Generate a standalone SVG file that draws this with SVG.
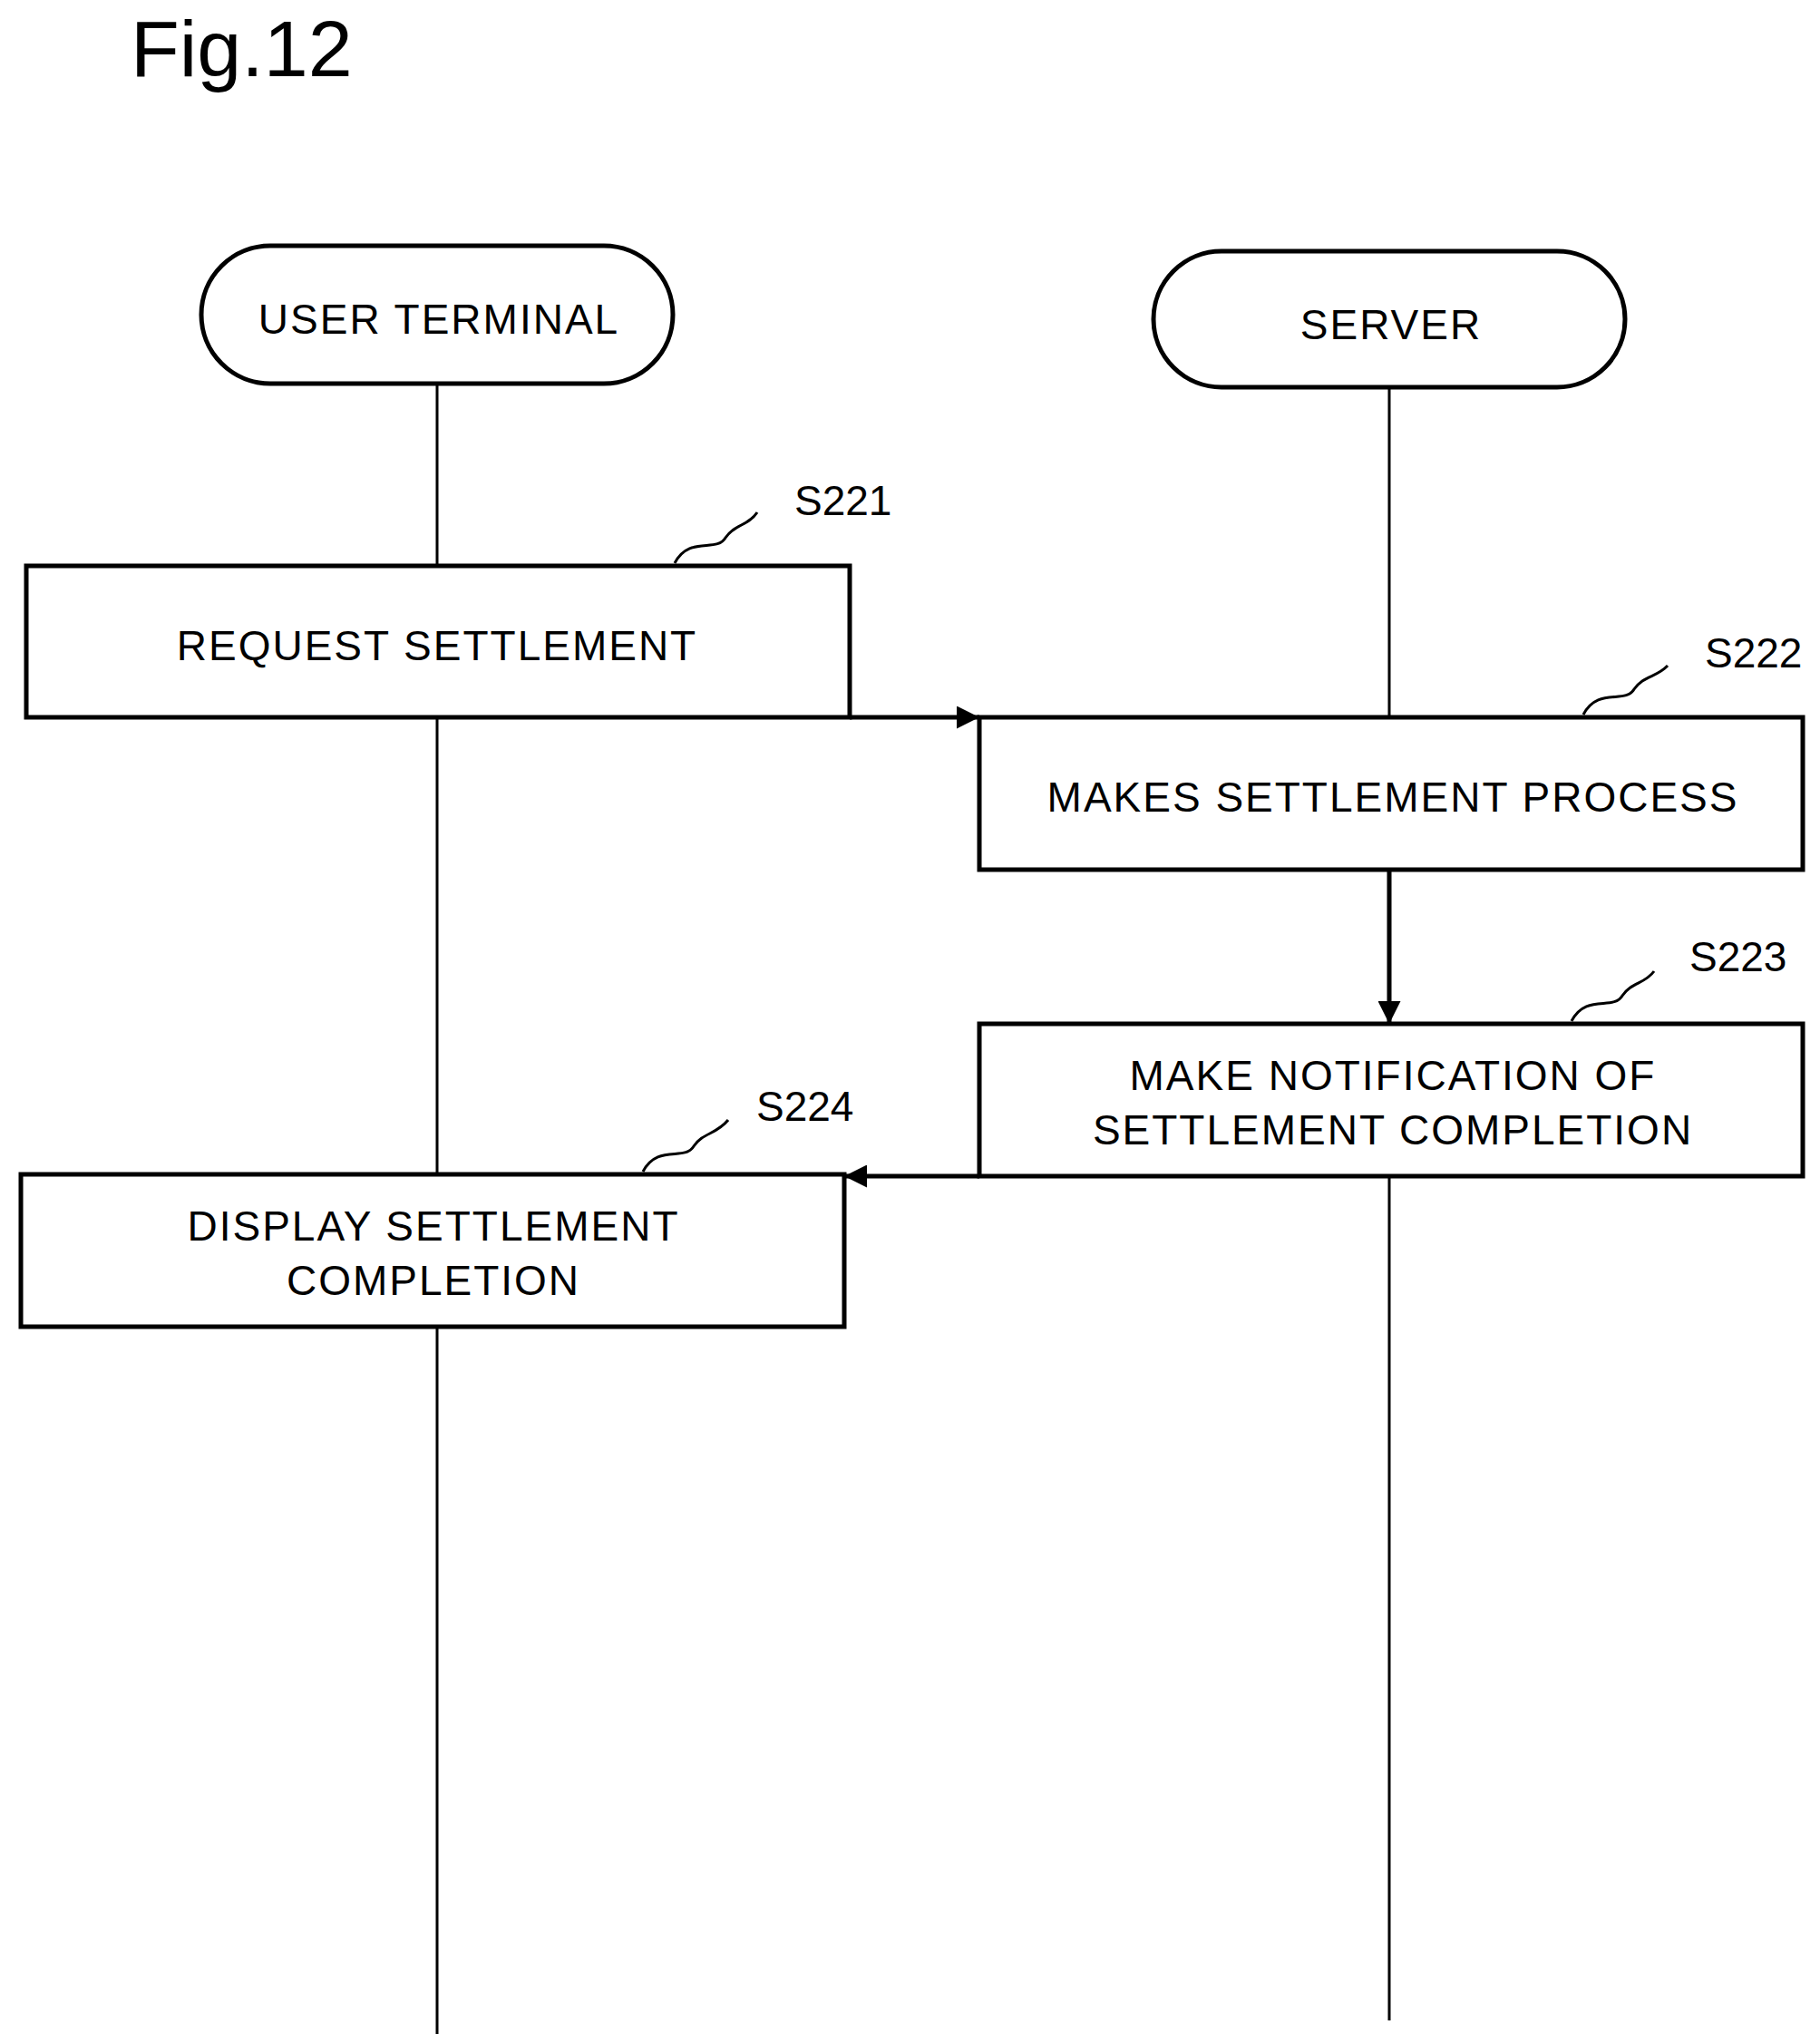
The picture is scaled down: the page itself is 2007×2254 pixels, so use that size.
<svg xmlns="http://www.w3.org/2000/svg" width="2007" height="2254" viewBox="0 0 2007 2254">
<style>
text{font-family:"Liberation Sans",Arial,sans-serif;fill:#000}
.t{font-size:46px;text-anchor:middle;letter-spacing:2px}
.l{font-size:46px}
.box{fill:#fff;stroke:#000;stroke-width:5}
.life{stroke:#000;stroke-width:3;fill:none}
.arr{stroke:#000;stroke-width:5;fill:none}
.sq{stroke:#000;stroke-width:3;fill:none}
</style>
<defs>
<marker id="ah" viewBox="0 0 10 10" refX="10" refY="5" markerWidth="5" markerHeight="5" orient="auto" markerUnits="strokeWidth"><path d="M0,0 L10,5 L0,10 z" fill="#000"/></marker>
</defs>
<rect width="2007" height="2254" fill="#fff"/>
<text x="144" y="84" style="font-size:88px">Fig.12</text>
<g id="lifelines">
<line class="life" x1="482" y1="423" x2="482" y2="2243"/>
<line class="life" x1="1532" y1="427" x2="1532" y2="2228"/>
</g>
<g id="user-terminal"><rect class="box" x="222" y="271" width="520" height="152" rx="76"/><text class="t" x="484" y="368">USER TERMINAL</text></g>
<g id="server"><rect class="box" x="1272" y="277" width="520" height="150" rx="75"/><text class="t" x="1534" y="374">SERVER</text></g>
<g id="s221"><rect class="box" x="29" y="624" width="908" height="167"/><text class="t" x="482" y="728">REQUEST SETTLEMENT</text></g>
<g id="s222"><rect class="box" x="1080" y="791" width="908" height="168"/><text class="t" x="1536" y="895">MAKES SETTLEMENT PROCESS</text></g>
<g id="s223"><rect class="box" x="1080" y="1129" width="908" height="168"/><text class="t" x="1536" y="1202">MAKE NOTIFICATION OF</text><text class="t" x="1536" y="1262">SETTLEMENT COMPLETION</text></g>
<g id="s224"><rect class="box" x="23" y="1295" width="908" height="168"/><text class="t" x="478" y="1368">DISPLAY SETTLEMENT</text><text class="t" x="478" y="1428">COMPLETION</text></g>
<g id="labels">
<path class="sq" d="M744,621 C760,590 790,610 800,593 C810,578 825,580 835,565"/>
<text class="l" x="876" y="568">S221</text>
<path class="sq" d="M1746,788 C1762,757 1792,777 1802,760 C1812,745 1827,747 1839,734"/>
<text class="l" x="1880" y="736">S222</text>
<path class="sq" d="M1733,1126 C1749,1095 1779,1115 1789,1098 C1799,1083 1814,1085 1824,1071"/>
<text class="l" x="1863" y="1071">S223</text>
<path class="sq" d="M709,1292 C725,1261 755,1281 765,1264 C775,1249 790,1251 803,1235"/>
<text class="l" x="834" y="1236">S224</text>
</g>
<g id="connectors">
<line class="arr" x1="937" y1="791" x2="1080" y2="791" marker-end="url(#ah)"/>
<line class="arr" x1="1532" y1="959" x2="1532" y2="1129" marker-end="url(#ah)"/>
<line class="arr" x1="1080" y1="1297" x2="931" y2="1297" marker-end="url(#ah)"/>
</g>
</svg>
